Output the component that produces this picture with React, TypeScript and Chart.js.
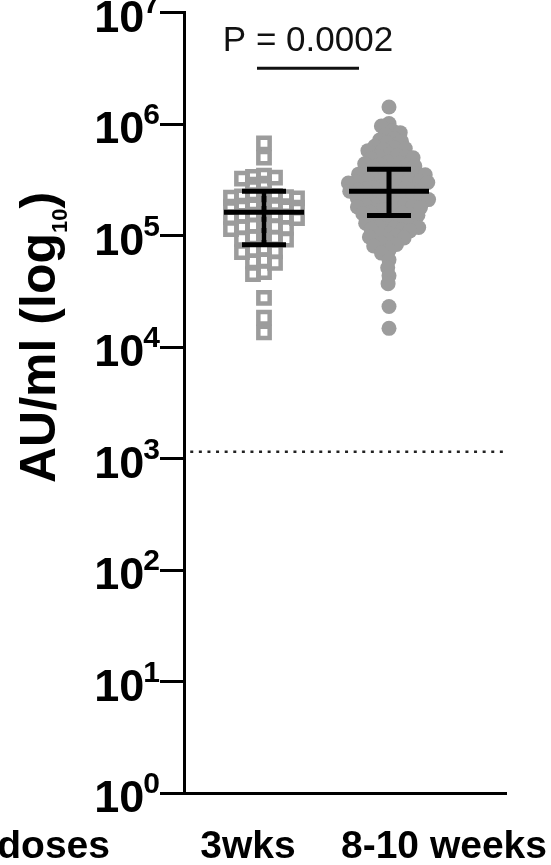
import React, { useEffect, useRef } from 'react';
import { Chart, registerables } from 'chart.js';

Chart.register(...registerables);

// ---------------- data ----------------
const categories = ['3wks', '8-10 weeks'];
const leadLabel = 'doses';
const yTickValues = [1, 10, 100, 1000, 1e4, 1e5, 1e6, 1e7];

// AU/ml, 3 weeks (open squares)
const threeWeeks = [
  670000, 500000,
  345000, 336000, 330000, 324000,
  292000, 286000,
  234000, 230000, 227000, 224000, 221000, 218000, 215000,
  192000, 189000, 187000, 185000, 183000, 181000, 178000,
  156000, 154000, 152000, 150000, 148000, 146000, 143000,
  125000, 123000, 121000, 119000, 117000, 114000,
  98000, 96500, 95000, 93500, 92000,
  75500, 74000, 72500, 71000,
  60000, 58500, 57000,
  47000, 45000,
  27600, 18300, 13500,
];

// AU/ml, 8-10 weeks (filled circles)
const eightToTenWeeks = [
  1420000,
  1010000, 960000,
  870000, 836000, 805000,
  740000, 718000, 698000, 678000,
  630000, 615000, 603000, 590000, 577000,
  535000, 525000, 515000, 506000, 497000, 490000,
  455000, 447000, 440000, 434000, 427000, 420000, 414000,
  385000, 379000, 374000, 369000, 364000, 359000, 355000, 351000,
  328000, 323000, 319000, 315000, 311000, 307000, 303000, 299000, 296000,
  280000, 276000, 272000, 268000, 265000, 262000, 259000, 256000, 253000, 250000,
  237000, 233000, 230000, 227000, 224000, 221000, 218000, 215000, 213000, 210000,
  200000, 197000, 194000, 191000, 188000, 186000, 183000, 180000, 178000,
  171000, 168000, 165000, 162000, 159000, 157000, 154000, 152000,
  144000, 141000, 138000, 136000, 133000, 131000, 129000,
  123000, 120000, 118000, 116000, 114000, 112000, 110000,
  104000, 101000, 99000, 97000, 95000,
  88000, 85500, 83000, 80500,
  73500, 69500,
  60500, 51400, 43600, 37000, 23100, 14700,
];

const medians = [162000, 249000];
const lowerQuartiles = [82400, 151000];
const upperQuartiles = [249000, 392000];
const cutoffValue = 1150;
const pValueText = 'P = 0.0002';
const bracketValue = 3.16e6;
const yTitleMain = 'AU/ml (log';
const yTitleSub = '10';
const yTitleEnd = ')';

// ---------------- layout / style ----------------
const W = 551;
const H = 865;
const X_MIN = 0.36;
const X_MAX = 2.936;
const MED_HALF = 0.32;
const CAP_HALF = 0.176;
const BRACKET_FROM = 0.944;
const BRACKET_TO = 1.76;
const LABEL_SHIFT = [-16, 55];
const GRAY = '#9c9c9c';
const FONT = '"Liberation Sans", Arial, Helvetica, sans-serif';

function swarmCircles(ys: number[], d: number): number[] {
  const order = ys.map((_, i) => i).sort((a, b) => ys[a] - ys[b]);
  const placed: { x: number; y: number }[] = [];
  const out = new Array(ys.length).fill(0);
  for (const i of order) {
    const y = ys[i];
    const iv: [number, number][] = [];
    for (const p of placed) {
      const dy = Math.abs(p.y - y);
      if (dy < d) {
        const w = Math.sqrt(d * d - dy * dy);
        iv.push([p.x - w, p.x + w]);
      }
    }
    const cands = [0];
    iv.forEach(([a, b]) => cands.push(a, b));
    cands.sort((a, b) => Math.abs(a) - Math.abs(b));
    let best = 0;
    for (const c of cands) {
      if (iv.every(([a, b]) => c <= a + 1e-6 || c >= b - 1e-6)) {
        best = c;
        break;
      }
    }
    out[i] = best;
    placed.push({ x: best, y });
  }
  return out;
}

function swarmSquares(ys: number[], cx: number, cy: number): number[] {
  const order = ys.map((_, i) => i).sort((a, b) => ys[a] - ys[b]);
  const placed: { x: number; y: number }[] = [];
  const out = new Array(ys.length).fill(0);
  for (const i of order) {
    const y = ys[i];
    const iv: [number, number][] = [];
    for (const p of placed) {
      if (Math.abs(p.y - y) < cy) iv.push([p.x - cx, p.x + cx]);
    }
    const cands = [0];
    iv.forEach(([a, b]) => cands.push(a, b));
    cands.sort((a, b) => Math.abs(a) - Math.abs(b));
    let best = 0;
    for (const c of cands) {
      if (iv.every(([a, b]) => c <= a + 1e-6 || c >= b - 1e-6)) {
        best = c;
        break;
      }
    }
    out[i] = best;
    placed.push({ x: best, y });
  }
  return out;
}

const textPlugin = {
  id: 'textPlugin',
  afterDraw(chart: any) {
    const { ctx, chartArea, scales } = chart;
    const xs = scales.x;
    const ys = scales.y;
    ctx.save();
    ctx.fillStyle = '#000';

    // y tick labels 10^n
    yTickValues.forEach((v) => {
      const py = ys.getPixelForValue(v);
      const exp = String(Math.round(Math.log10(v)));
      const right = chartArea.left - 24;
      ctx.textAlign = 'right';
      ctx.textBaseline = 'alphabetic';
      ctx.font = `bold 30px ${FONT}`;
      const sw = ctx.measureText(exp).width;
      ctx.fillText(exp, right, py);
      ctx.font = `bold 45px ${FONT}`;
      ctx.fillText('10', right - sw + 1, py + 19);
    });

    // y title
    ctx.save();
    ctx.translate(55, 483);
    ctx.rotate(-Math.PI / 2);
    ctx.textAlign = 'left';
    ctx.textBaseline = 'alphabetic';
    ctx.font = `bold 50px ${FONT}`;
    ctx.fillText(yTitleMain, 0, 0);
    const w1 = ctx.measureText(yTitleMain).width;
    ctx.font = `bold 22px ${FONT}`;
    ctx.fillText(yTitleSub, w1, 12);
    const w2 = ctx.measureText(yTitleSub).width;
    ctx.font = `bold 50px ${FONT}`;
    ctx.fillText(yTitleEnd, w1 + w2, 0);
    ctx.restore();

    // x labels
    ctx.font = `bold 39px ${FONT}`;
    ctx.textAlign = 'center';
    const base = chartArea.bottom + 65;
    categories.forEach((c, i) => {
      ctx.fillText(c, xs.getPixelForValue(i + 1) + LABEL_SHIFT[i], base);
    });
    ctx.textAlign = 'right';
    ctx.fillText(leadLabel, 110, base);

    // p value
    ctx.font = `35px ${FONT}`;
    ctx.textAlign = 'center';
    ctx.fillStyle = '#111';
    const bx = (xs.getPixelForValue(BRACKET_FROM) + xs.getPixelForValue(BRACKET_TO)) / 2;
    ctx.fillText(pValueText, bx, ys.getPixelForValue(bracketValue) - 17);
    ctx.restore();
  },
};

export default function App() {
  const ref = useRef<HTMLCanvasElement>(null);
  useEffect(() => {
    document.body.style.margin = '0';
    const lineDs = (pts: { x: number; y: number }[], width: number, extra: any = {}) => ({
      data: pts,
      showLine: true,
      borderColor: '#000',
      borderWidth: width,
      pointRadius: 0,
      borderCapStyle: 'butt',
      fill: false,
      ...extra,
    });
    const summary: any[] = [];
    categories.forEach((_, i) => {
      const c = i + 1;
      summary.push(lineDs([{ x: c - MED_HALF, y: medians[i] }, { x: c + MED_HALF, y: medians[i] }], 5));
      summary.push(lineDs([{ x: c - CAP_HALF, y: upperQuartiles[i] }, { x: c + CAP_HALF, y: upperQuartiles[i] }], 5));
      summary.push(lineDs([{ x: c - CAP_HALF, y: lowerQuartiles[i] }, { x: c + CAP_HALF, y: lowerQuartiles[i] }], 5));
      summary.push(lineDs([{ x: c, y: lowerQuartiles[i] }, { x: c, y: upperQuartiles[i] }], 5));
    });
    const datasets: any[] = [
      ...summary,
      lineDs([{ x: BRACKET_FROM, y: bracketValue }, { x: BRACKET_TO, y: bracketValue }], 3, { borderColor: '#111' }),
      lineDs([{ x: X_MIN + 0.05, y: cutoffValue }, { x: X_MAX - 0.025, y: cutoffValue }], 2.5, {
        borderColor: '#222',
        borderDash: [3, 5.6],
      }),
      {
        data: eightToTenWeeks.map((v) => ({ x: 2, y: v })),
        pointStyle: 'circle',
        pointRadius: 7.5,
        backgroundColor: GRAY,
        borderColor: GRAY,
        borderWidth: 0,
      },
      {
        data: threeWeeks.map((v) => ({ x: 1, y: v })),
        pointStyle: 'rect',
        pointRadius: 8,
        backgroundColor: 'rgba(255,255,255,0)',
        borderColor: GRAY,
        borderWidth: 4.5,
      },
    ];
    const chart = new Chart(ref.current!, {
      type: 'scatter',
      data: { datasets },
      plugins: [textPlugin],
      options: {
        responsive: false,
        animation: false,
        events: [],
        layout: { padding: { left: 0, top: 7, right: 45, bottom: 0 } },
        plugins: { legend: { display: false }, tooltip: { enabled: false } },
        scales: {
          x: {
            type: 'linear',
            min: X_MIN,
            max: X_MAX,
            grid: { display: false },
            ticks: { display: false },
            border: { display: true, color: '#000', width: 3 },
            afterFit: (s: any) => {
              s.height = 72;
            },
          },
          y: {
            type: 'logarithmic',
            min: 1,
            max: 1e7,
            afterBuildTicks: (s: any) => {
              s.ticks = yTickValues.map((v) => ({ value: v }));
            },
            ticks: { display: false },
            grid: {
              display: true,
              drawOnChartArea: false,
              drawTicks: true,
              tickLength: 24,
              lineWidth: 3,
              color: '#000',
            },
            border: { display: true, color: '#000', width: 3 },
            afterFit: (s: any) => {
              s.width = 184;
            },
          },
        },
      } as any,
    });

    // beeswarm offsets computed from the chart's own scales
    const xs: any = chart.scales.x;
    const ysc: any = chart.scales.y;
    const place = (vals: number[], center: number, offs: number[]) =>
      vals.map((v, i) => ({ x: xs.getValueForPixel(xs.getPixelForValue(center) + offs[i]), y: v }));
    const n = datasets.length;
    const circOffs = swarmCircles(eightToTenWeeks.map((v) => ysc.getPixelForValue(v)), 8);
    const sqOffs = swarmSquares(threeWeeks.map((v) => ysc.getPixelForValue(v)), 11, 7);
    chart.data.datasets[n - 2].data = place(eightToTenWeeks, 2, circOffs) as any;
    chart.data.datasets[n - 1].data = place(threeWeeks, 1, sqOffs) as any;
    chart.update('none');

    return () => chart.destroy();
  }, []);
  return (
    <div style={{ width: W, height: H }}>
      <canvas ref={ref} width={W} height={H} style={{ display: 'block' }} />
    </div>
  );
}
